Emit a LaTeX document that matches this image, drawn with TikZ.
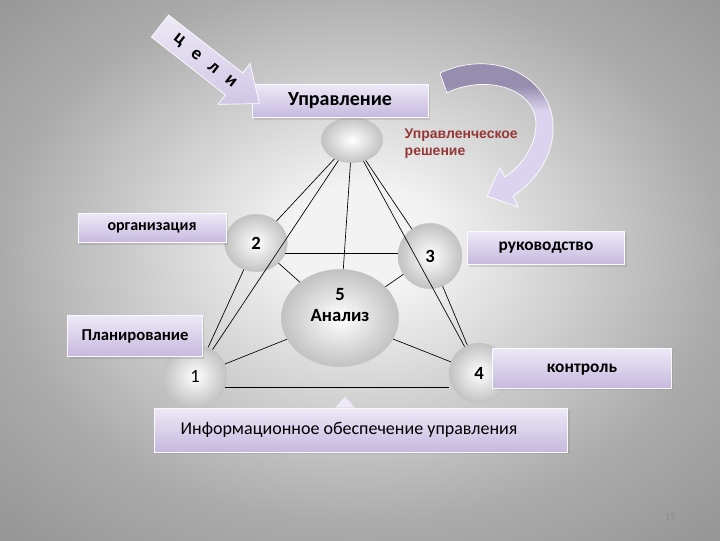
\documentclass[tikz,border=0pt]{standalone}
\usepackage{fontspec}
\setmainfont{Carlito}
\newfontfamily\decisionfont{Liberation Sans}
\usepackage{xcolor}
\usepackage{tikz}
\usetikzlibrary{positioning,shapes,shapes.geometric,shadows}

\definecolor{bgcenter}{HTML}{F3F3F3}
\definecolor{bgmid}{HTML}{ABABAB}
\definecolor{bgedge}{HTML}{959595}
\definecolor{tabtop}{HTML}{EEE9F7}
\definecolor{tabbottom}{HTML}{C6B9DE}
\definecolor{ballrim}{HTML}{C2C2C2}
\definecolor{loopdark}{HTML}{978DAE}
\definecolor{looplight}{HTML}{DCD4EE}
\definecolor{decisionred}{HTML}{953735}

\pgfdeclareradialshading{slidebg}{\pgfpoint{0bp}{3bp}}{color(0bp)=(bgcenter); color(5bp)=(bgcenter); color(25bp)=(bgmid); color(36bp)=(bgedge); color(50bp)=(bgedge)}
\pgfdeclarehorizontalshading{loopshade}{100bp}{color(0bp)=(looplight); color(56bp)=(looplight); color(64bp)=(loopdark); color(100bp)=(loopdark)}

\begin{document}
\begin{tikzpicture}[x=0.75pt, y=-0.75pt,
    tab/.style={rectangle, draw=white!90!tabbottom, line width=0.5pt, top color=tabtop, bottom color=tabbottom,
                drop shadow={shadow xshift=1.5pt, shadow yshift=-1.5pt, opacity=0.25}, inner sep=0pt},
    ball/.style={ellipse, draw=gray!45, line width=0.3pt, inner color=white, outer color=ballrim,
                 inner sep=0pt, font=\bfseries\fontsize{14}{17}\selectfont},
    link/.style={draw=black, line width=0.5pt}]

    \shade[shading=slidebg] (0,0) rectangle (720,540);

    % circles
    \node[ball, minimum width=46pt, minimum height=34pt] (top) at (352,140) {};
    \node[ball, minimum width=47pt, minimum height=43pt] (n2) at (256,243) {2};
    \node[ball, minimum width=48pt, minimum height=49pt] (n3) at (430,256) {3};
    \node[ball, minimum width=88pt, minimum height=73pt, align=center] (n5) at (340,318) {5\\[-1pt]Анализ\\[3pt]};
    \node[ball, minimum width=48pt, minimum height=47pt, font=\fontsize{14}{17}\selectfont] (n1) at (195,376) {1};
    \node[ball, minimum width=45pt, minimum height=45pt] (n4) at (479,373) {4};

    \draw[link] (top) -- (n2);
    \draw[link] (top) -- (n1);
    \draw[link] (top) -- (n5);
    \draw[link] (top) -- (n4);
    \draw[link] (top) -- (n3);
    \draw[link] (n2) -- (n1);
    \draw[link] (n2.-20) -- (n2.-20 -| n3.west);
    \draw[link] (n2) -- (n5);
    \draw[link] (n3) -- (n5);
    \draw[link] (n3) -- (n4);
    \draw[link] (n1) -- (n5);
    \draw[link] (n1.-20) -- (n1.-20 -| n4.west);
    \draw[link] (n5) -- (n4);

    % labels
    \node[tab, minimum width=132pt, minimum height=25pt, font=\bfseries\fontsize{15}{18}\selectfont] (mgmt) at (340,101) {Управление};
    \node[tab, minimum width=111pt, minimum height=22pt, font=\bfseries\fontsize{12}{14}\selectfont] (org) at (152,228) {организация};
    \node[tab, minimum width=101pt, minimum height=31pt, font=\bfseries\fontsize{12.5}{15}\selectfont] (plan) at (135,336) {Планирование};
    \node[tab, minimum width=118pt, minimum height=25pt, font=\bfseries\fontsize{13}{15}\selectfont] (lead) at (546,248) {руководство};
    \node[tab, minimum width=134pt, minimum height=30pt, font=\bfseries\fontsize{13}{15}\selectfont] (ctrl) at (582,368) {\strut контроль};
    \node[tab, minimum width=310pt, minimum height=33pt, font=\fontsize{13.5}{16}\selectfont] (info) at (361,430) {Информационное обеспечение управления\hspace*{18pt}};
    \fill[tabtop] (info.north -| 345,0) ++(-10,0) -- ++(10,-11) -- ++(10,11) -- cycle;

    % goals arrow
    \begin{scope}[shift={(160,26)}, rotate=-38]
        \path[draw=white, line width=0.5pt, top color=tabtop, bottom color=tabbottom!80!white]
            (0,-14) -- (94,-14) -- (94,-26) -- (126,0) -- (94,26) -- (94,14) -- (0,14) -- cycle;
        \foreach \ch/\d [count=\i] in {ц/24, е/46, л/68, и/90}
            \node[rotate=-38, font=\bfseries\fontsize{14}{14}\selectfont] (goal\i) at (\d,0) {\ch};
    \end{scope}

    % decision loop
    \shade[shading=loopshade, shading angle=90, draw=white, line width=0.5pt]
        (440,73) .. controls (485,52) and (535,68) .. (550,108)
        .. controls (560,140) and (545,175) .. (513,196)
        -- (518,207) -- (487,196) -- (500,168) -- (505,177)
        .. controls (530,160) and (542,130) .. (533,110)
        .. controls (520,82) and (475,78) .. (447,93) -- cycle;
    \node[anchor=north west, align=left, text=decisionred,
          font=\decisionfont\bfseries\fontsize{10.5}{13}\selectfont] (decision) at (400,124) {Управленческое\\решение};

    \node[text=black!45, font=\fontsize{8}{9}\selectfont] (page) at (670,517) {19};
\end{tikzpicture}
\end{document}
